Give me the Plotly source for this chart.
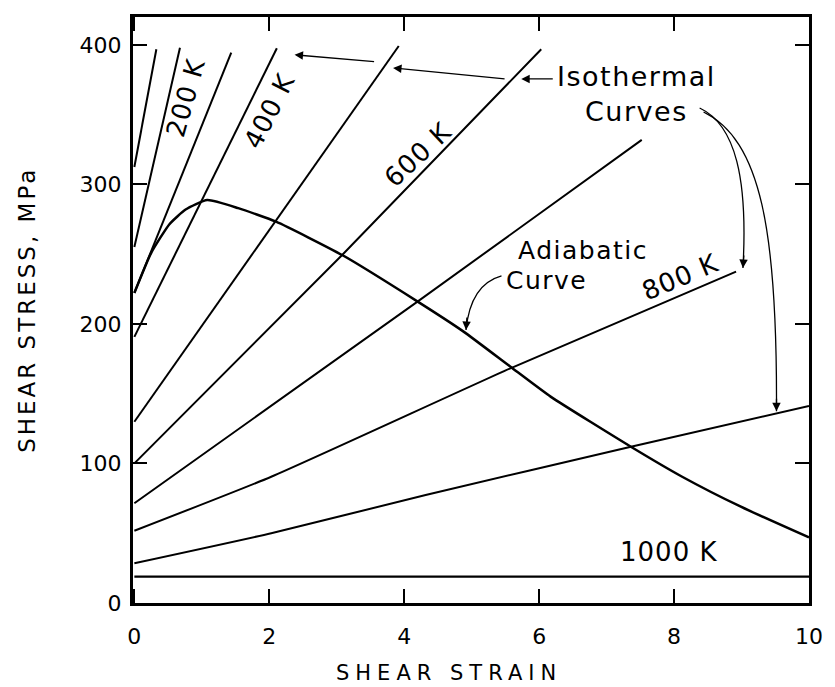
import plotly.graph_objects as go

# Isothermal stress-strain curves, one per test temperature (K)
temps = [100, 200, 300, 400, 500, 600, 700, 800, 900, 1000]
iso_strain = [
    [0, 0.326],
    [0, 0.676],
    [0, 1.436],
    [0, 2.112],
    [0, 3.919],
    [0, 3.08, 6.031],
    [0, 4.197, 7.521],
    [0, 2.029, 5.574, 8.919],
    [0, 2.029, 4.318, 7.361, 10.0],
    [0, 10.0],
]
iso_stress = [
    [312.5, 396.9],
    [255.2, 398.0],
    [222.2, 394.4],
    [190.7, 397.6],
    [129.9, 399.2],
    [100.1, 249.4, 396.9],
    [71.5, 216.0, 331.9],
    [51.8, 90.5, 168.2, 237.5],
    [28.5, 50.0, 77.4, 112.0, 141.2],
    [18.9, 18.9],
]

# Adiabatic curve (starts on the 300 K isotherm)
adi_strain = [0, 0.25, 0.52, 0.76, 1.08, 1.54, 2.10, 3.08, 4.20, 4.88,
              5.57, 6.17, 7.36, 8.12, 8.99, 10.0]
adi_stress = [222.2, 251, 271.5, 282, 288.8, 283, 273.3, 249.4, 216, 194.5,
              169.5, 147.9, 112, 90.5, 69, 47]

x_ticks = [0, 2, 4, 6, 8, 10]
y_ticks = [0, 100, 200, 300, 400]

# Temperature labels: (text, strain, stress, angle)
temp_labels = [
    ("200 K", 0.754, 362.3, -74),
    ("400 K", 2.006, 352.3, -63),
    ("600 K", 4.197, 321.1, -43),
    ("800 K", 8.087, 234.0, -23),
    ("1000 K", 7.921, 36.8, 0),
]

FONT = "DejaVu Sans"
INK = "black"


def spaced(text, px):
    return f'<span style="letter-spacing:{px}px">{text}</span>'


fig = go.Figure()

for t, xs, ys in zip(temps, iso_strain, iso_stress):
    fig.add_trace(go.Scatter(
        x=xs, y=ys, mode="lines", name=f"{t} K",
        line=dict(color=INK, width=2.2 if t == 1000 else 2, shape="spline", smoothing=0.5),
        hoverinfo="skip",
    ))

fig.add_trace(go.Scatter(
    x=adi_strain, y=adi_stress, mode="lines", name="Adiabatic",
    line=dict(color=INK, width=2.5, shape="spline", smoothing=0.5),
    hoverinfo="skip",
))

annotations = []
for text, x, y, ang in temp_labels:
    annotations.append(dict(x=x, y=y, xref="x", yref="y", text=spaced(text, 1), showarrow=False,
                            textangle=ang, xanchor="center", yanchor="middle",
                            font=dict(family=FONT, size=26, color=INK)))

# Callout texts: (text, strain, stress, size)
for text, x, y, size in [("Isothermal", 7.436, 377.7, 27), ("Curves", 7.444, 352.6, 27),
                         ("Adiabatic", 6.655, 252.3, 25), ("Curve", 6.107, 230.8, 25)]:
    annotations.append(dict(x=x, y=y, xref="x", yref="y", text=spaced(text, 1.5), showarrow=False,
                            xanchor="center", yanchor="middle",
                            font=dict(family=FONT, size=size, color=INK)))

# Straight leader arrows from "Isothermal" toward the isotherms
for x, y, ax, ay in [(5.735, 375.6, 33, 0), (3.835, 383.5, 113, 11), (2.375, 392.9, 81, 7)]:
    annotations.append(dict(x=x, y=y, xref="x", yref="y", ax=ax, ay=ay, text="",
                            showarrow=True, arrowhead=2, arrowsize=1.3, arrowwidth=1.3,
                            arrowcolor=INK))

# Heads of the curved leaders
for x, y, ax, ay in [(9.021, 240.1, 1, -14), (9.518, 137.5, 0, -14), (4.916, 195.7, 1, -14)]:
    annotations.append(dict(x=x, y=y, xref="x", yref="y", ax=ax, ay=ay, text="",
                            showarrow=True, arrowhead=2, arrowsize=1.3, arrowwidth=1.3,
                            arrowcolor=INK))

# Axis titles
annotations.append(dict(x=0.467, y=-0.1195, xref="paper", yref="paper",
                        xanchor="center", yanchor="middle",
                        text=spaced("SHEAR STRAIN", 6),
                        showarrow=False, font=dict(family=FONT, size=21, color=INK)))
annotations.append(dict(x=-0.157, y=0.5, xref="paper", yref="paper", textangle=-90,
                        xanchor="center", yanchor="middle",
                        text=spaced("SHEAR STRESS, MPa", 3),
                        showarrow=False, font=dict(family=FONT, size=23, color=INK)))

# Curved leader shafts
curves = [
    "M 8.379,354.8 C 8.919,342.6 9.094,303.2 9.021,240.1",
    "M 8.437,351.9 C 9.284,331.9 9.532,267.3 9.518,137.5",
    "M 5.442,234.4 C 5.121,230.1 4.960,217.2 4.916,195.7",
]
shapes = [dict(type="path", path=p, xref="x", yref="y",
               line=dict(color=INK, width=1.3)) for p in curves]

axis_common = dict(
    showline=True, linewidth=3, linecolor=INK, mirror="ticks",
    ticks="inside", ticklen=14, tickwidth=2, tickcolor=INK,
    showgrid=False, zeroline=False,
    tickfont=dict(family=FONT, size=22, color=INK),
)

fig.update_layout(
    width=835, height=687,
    margin=dict(l=133, r=16, t=17, b=84),
    paper_bgcolor="white", plot_bgcolor="white",
    showlegend=False,
    xaxis=dict(range=[-0.02, 10.0], tickvals=x_ticks, ticklabelstandoff=12, **axis_common),
    yaxis=dict(range=[0, 420], tickvals=y_ticks, ticklabelstandoff=4, **axis_common),
    annotations=annotations,
    shapes=shapes,
)

fig.write_html("out.html")
